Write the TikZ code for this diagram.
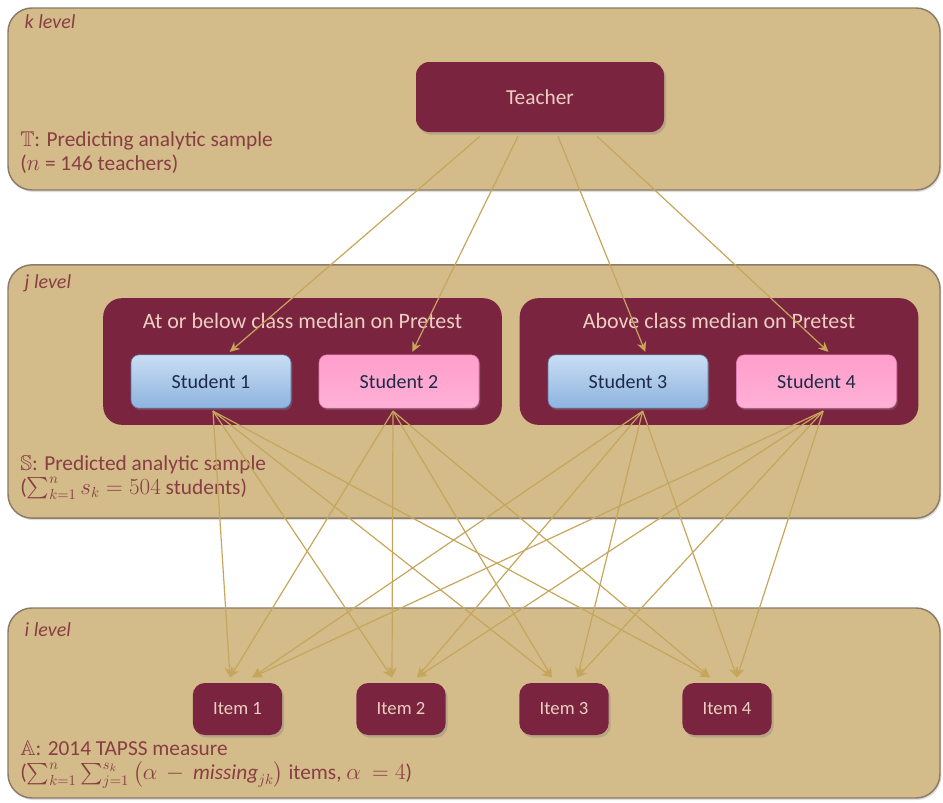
\documentclass[tikz,border=0pt]{standalone}
\usepackage{amssymb}
\usepackage{fontspec}
\setmainfont{Carlito}
\usetikzlibrary{arrows.meta,shadows}
\definecolor{panelfill}{HTML}{D3BB8A}
\definecolor{paneledge}{HTML}{8C7B66}
\definecolor{maroon}{HTML}{7B2440}
\definecolor{arrowc}{HTML}{C6A65A}
\definecolor{labelc}{HTML}{8A3E44}
\definecolor{lighttext}{HTML}{EBCFC0}
\definecolor{navytext}{HTML}{1E2A48}
\definecolor{blueedge}{HTML}{5A7AA6}
\definecolor{pinkedge}{HTML}{E07AAE}
\definecolor{bluetop}{HTML}{C9DEF3}
\definecolor{bluemid}{HTML}{ADCBEB}
\definecolor{bluebot}{HTML}{8DB3DF}
\definecolor{pinktop}{HTML}{FF9ECB}
\definecolor{pinkmid}{HTML}{FFE2EF}
\definecolor{pinkbot}{HTML}{FFB0D7}
\tikzset{
  panel/.style={draw=paneledge, line width=1.1pt, fill=panelfill, rounded corners=18pt,
    minimum width=699pt, drop shadow={opacity=0.25, shadow xshift=1pt, shadow yshift=-1.5pt}},
  darkbox/.style={fill=maroon, rounded corners=9pt, text=lighttext,
    drop shadow={opacity=0.35, shadow xshift=1.5pt, shadow yshift=-2pt}},
  groupbox/.style={fill=maroon, rounded corners=14pt, minimum width=299pt, minimum height=95pt},
  studbase/.style={rounded corners=6pt, minimum width=120pt, minimum height=40pt, text=navytext,
    font=\fontsize{15}{17}\selectfont, drop shadow={opacity=0.35, shadow xshift=1pt, shadow yshift=-1.5pt}},
  bluestud/.style={studbase, draw=blueedge, top color=bluetop, middle color=bluemid, bottom color=bluebot},
  pinkstud/.style={studbase, draw=pinkedge, top color=pinktop, middle color=pinkmid, bottom color=pinkbot},
  itembox/.style={darkbox, minimum width=67pt, minimum height=39pt, font=\fontsize{14}{16}\selectfont},
  conn/.style={draw=arrowc, line width=0.9pt, -{Stealth[length=7.5pt,width=7pt]}},
  lvl/.style={anchor=west, text=labelc, font=\itshape\fontsize{15}{17}\selectfont},
  desc/.style={anchor=north west, text=labelc, align=left, font=\fontsize{16}{18}\selectfont, inner sep=0pt},
  gtitle/.style={text=lighttext, font=\fontsize{16.5}{18}\selectfont},
}
\begin{document}
\begin{tikzpicture}[x=0.75pt,y=-0.75pt]
\useasboundingbox (0,0) rectangle (943,803);
% panels
\node[panel, minimum height=136.5pt] (kpanel) at (474,99) {};
\node[panel, minimum height=190pt] (jpanel) at (474,391.5) {};
\node[panel, minimum height=142.5pt] (ipanel) at (474,703) {};
% level labels
\node[lvl] (klab) at (20,22) {k level};
\node[lvl] (jlab) at (20,283) {j level};
\node[lvl] (ilab) at (20,630) {i level};
% descriptions
\node[desc] (kdesc) at (20,131) {$\mathbb{T}$: Predicting analytic sample\\($n$ = 146 teachers)};
\node[desc] (jdesc) at (20,455) {$\mathbb{S}$: Predicted analytic sample\\($\sum_{k=1}^{n} s_k = 504$ students)};
\node[desc] (idesc) at (20,741) {$\mathbb{A}$: 2014 TAPSS measure\\($\sum_{k=1}^{n}\sum_{j=1}^{s_k}\left(\alpha\,-\,\mathit{missing}_{jk}\right)$ items, $\alpha\ = 4$)};
% teacher
\node[darkbox, rounded corners=10pt, minimum width=186pt, minimum height=52.5pt, font=\fontsize{16}{18}\selectfont] (teacher) at (540,97) {Teacher};
% groups
\node[groupbox] (gleft) at (302.5,361.5) {};
\node[groupbox] (gright) at (719,361.5) {};
\node[gtitle] (gltitle) at (302.5,321) {At or below class median on Pretest};
\node[gtitle] (grtitle) at (719,321) {Above class median on Pretest};
% students
\node[bluestud] (s1) at (211,381.5) {Student 1};
\node[pinkstud] (s2) at (399,381.5) {Student 2};
\node[bluestud] (s3) at (628,381.5) {Student 3};
\node[pinkstud] (s4) at (816.5,381.5) {Student 4};
% items
\node[itembox] (i1) at (237.5,709) {Item 1};
\node[itembox] (i2) at (401,709) {Item 2};
\node[itembox] (i3) at (564,709) {Item 3};
\node[itembox] (i4) at (727,709) {Item 4};
% teacher -> students
\draw[conn] ([xshift=-45pt,yshift=-3pt]teacher.south) -- ([xshift=14pt,yshift=2pt]s1.north);
\draw[conn] ([xshift=-16.5pt,yshift=-3pt]teacher.south) -- ([xshift=10pt,yshift=2pt]s2.north);
\draw[conn] ([xshift=13.5pt,yshift=-3pt]teacher.south) -- ([xshift=13pt,yshift=2pt]s3.north);
\draw[conn] ([xshift=42.75pt,yshift=-3pt]teacher.south) -- ([xshift=9pt,yshift=2pt]s4.north);
% students -> items
\foreach \s/\sx in {s1/1.5, s2/-4.5} {
  \draw[conn] ([xshift=\sx pt,yshift=-2pt]\s.south) -- ([xshift=-5.6pt,yshift=4pt]i1.north);
  \draw[conn] ([xshift=\sx pt,yshift=-2pt]\s.south) -- ([xshift=-6.75pt,yshift=4pt]i2.north);
  \draw[conn] ([xshift=\sx pt,yshift=-2pt]\s.south) -- ([xshift=-9pt,yshift=4pt]i3.north);
  \draw[conn] ([xshift=\sx pt,yshift=-2pt]\s.south) -- ([xshift=-12.75pt,yshift=4pt]i4.north);
}
\foreach \s/\sx in {s3/11, s4/5} {
  \draw[conn] ([xshift=\sx pt,yshift=-2pt]\s.south) -- ([xshift=11pt,yshift=4pt]i1.north);
  \draw[conn] ([xshift=\sx pt,yshift=-2pt]\s.south) -- ([xshift=12pt,yshift=4pt]i2.north);
  \draw[conn] ([xshift=\sx pt,yshift=-2pt]\s.south) -- ([xshift=10pt,yshift=4pt]i3.north);
  \draw[conn] ([xshift=\sx pt,yshift=-2pt]\s.south) -- ([xshift=7.5pt,yshift=4pt]i4.north);
}
\end{tikzpicture}
\end{document}
